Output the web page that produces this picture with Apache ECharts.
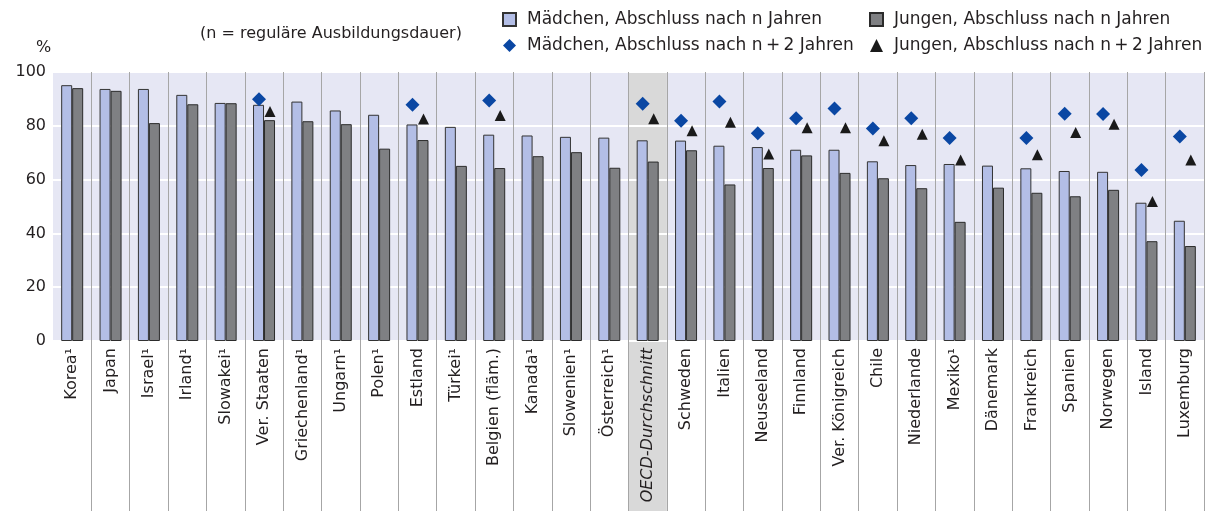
<!DOCTYPE html>
<html>
<head>
<meta charset="utf-8">
<script src="https://cdn.jsdelivr.net/npm/echarts@6/dist/echarts.min.js"></script>
<style>
  html, body { margin: 0; padding: 0; background: #fff; }
  #chart { width: 1208px; height: 511px; }
</style>
</head>
<body>
<div id="chart"></div>
<script>
// Länder (Reihenfolge wie im Original)
const categories = [
  'Korea¹', 'Japan', 'Israel¹', 'Irland¹', 'Slowakei¹', 'Ver. Staaten', 'Griechenland¹',
  'Ungarn¹', 'Polen¹', 'Estland', 'Türkei¹', 'Belgien (fläm.)', 'Kanada¹', 'Slowenien¹',
  'Österreich¹', 'OECD-Durchschnitt', 'Schweden', 'Italien', 'Neuseeland', 'Finnland',
  'Ver. Königreich', 'Chile', 'Niederlande', 'Mexiko¹', 'Dänemark', 'Frankreich',
  'Spanien', 'Norwegen', 'Island', 'Luxemburg'
]
const avgCategory = 'OECD-Durchschnitt'

// Mädchen / Jungen, Abschluss nach n Jahren (Balken)
const girlsN = [95.1, 93.7, 93.7, 91.5, 88.5, 87.8, 89.0, 85.7, 84.1, 80.5, 79.6, 76.7, 76.4, 75.9, 75.6,
  74.6, 74.5, 72.6, 72.1, 71.1, 71.1, 66.8, 65.4, 65.8, 65.2, 64.2, 63.2, 62.9, 51.4, 44.7]
const boysN = [94.0, 93.0, 81.0, 88.0, 88.4, 82.1, 81.7, 80.6, 71.5, 74.7, 65.1, 64.3, 68.7, 70.2, 64.4,
  66.7, 70.9, 58.2, 64.3, 69.0, 62.5, 60.5, 56.8, 44.3, 57.0, 55.1, 53.8, 56.2, 37.1, 35.3]

// Abschluss nach n+2 Jahren (Symbole), null = keine Daten
const girlsN2 = [null, null, null, null, null, 89.9, null, null, null, 87.8, null, 89.4, null, null, null,
  88.2, 81.9, 89.0, 77.2, 82.8, 86.4, 79.0, 82.8, 75.5, null, 75.5, 84.5, 84.4, 63.6, 76.0]
const boysN2 = [null, null, null, null, null, 85.3, null, null, null, 82.5, null, 83.8, null, null, null,
  82.6, 78.2, 81.3, 69.5, 79.3, 79.3, 74.4, 76.9, 67.3, null, 69.2, 77.5, 80.6, 51.9, 67.3]

const yTicks = { min: 0, max: 100, interval: 20 }

const FONT = 'DejaVu Sans'
const TXT = '#231f20'
const GRID = { left: 53, right: 4, top: 72, bottom: 170 }

const nameGirlsN = 'Mädchen, Abschluss nach n Jahren'
const nameBoysN = 'Jungen, Abschluss nach n Jahren'
const nameGirlsN2 = 'Mädchen, Abschluss nach n\u2009+\u20092 Jahren'
const nameBoysN2 = 'Jungen, Abschluss nach n\u2009+\u20092 Jahren'

const chart = echarts.init(document.getElementById('chart'), null, { renderer: 'canvas' })

const legendText = { fontFamily: FONT, fontSize: 17, color: TXT, padding: [0, 0, 0, 6] }

const option = {
  animation: false,
  textStyle: { fontFamily: FONT, color: TXT },
  title: [
    { text: '%', left: 31, top: 35, textStyle: { fontFamily: FONT, fontSize: 16, fontWeight: 'normal', color: TXT } },
    { text: '(n = reguläre Ausbildungsdauer)', left: 195, top: 21,
      textStyle: { fontFamily: FONT, fontSize: 16, fontWeight: 'normal', color: TXT } }
  ],
  legend: [
    {
      orient: 'vertical', left: 497, top: 6, itemWidth: 13, itemHeight: 13, itemGap: 9,
      textStyle: legendText,
      data: [{ name: nameGirlsN, icon: 'rect' }, { name: nameGirlsN2, icon: 'diamond' }]
    },
    {
      orient: 'vertical', left: 864, top: 6, itemWidth: 13, itemHeight: 13, itemGap: 9,
      textStyle: legendText,
      data: [{ name: nameBoysN, icon: 'rect' }, { name: nameBoysN2, icon: 'triangle' }]
    }
  ],
  grid: { left: GRID.left, right: GRID.right, top: GRID.top, bottom: GRID.bottom },
  xAxis: {
    type: 'category',
    data: categories,
    axisLine: { show: false },
    axisTick: {
      show: true, length: 170,
      interval: (i) => i > 0,
      lineStyle: { color: '#a6a6a6', width: 1 }
    },
    splitLine: {
      show: true,
      interval: (i) => i > 0,
      lineStyle: { color: '#a6a6a6', width: 1 }
    },
    axisLabel: {
      rotate: 90, margin: 7, fontFamily: FONT, fontSize: 16, color: TXT, interval: 0,
      formatter: (v) => v === avgCategory ? '{it|' + v + '}' : v,
      rich: { it: { fontStyle: 'italic', fontFamily: FONT, fontSize: 16, color: TXT } }
    }
  },
  yAxis: {
    type: 'value',
    min: yTicks.min, max: yTicks.max, interval: yTicks.interval,
    axisLine: { show: false },
    axisTick: { show: false },
    axisLabel: { fontFamily: FONT, fontSize: 16, color: TXT, margin: 7 },
    splitLine: { lineStyle: { color: '#ffffff', width: 2 } }
  },
  series: [
    {
      name: nameGirlsN, type: 'bar', data: girlsN, barWidth: 11, barGap: '0%',
      itemStyle: { color: '#b3bee6', borderColor: '#333333', borderWidth: 1 }
    },
    {
      name: nameBoysN, type: 'bar', data: boysN, barWidth: 11,
      itemStyle: { color: '#7f8083', borderColor: '#2b2b2b', borderWidth: 1 }
    },
    {
      name: nameGirlsN2, type: 'scatter', data: girlsN2, symbol: 'diamond', symbolSize: 14,
      symbolOffset: [-5, 0], z: 4,
      itemStyle: { color: '#0a47a3', opacity: 1 }
    },
    {
      name: nameBoysN2, type: 'scatter', data: boysN2, symbol: 'triangle', symbolSize: 11,
      symbolOffset: [6, 0], z: 4,
      itemStyle: { color: '#1a1a1a', opacity: 1 }
    }
  ]
}

chart.setOption(option)

// Hintergrund der Zeichenfläche und grauer Streifen für den OECD-Durchschnitt,
// beides unter den Gitterlinien; Lage aus den Achsen
const avgIdx = categories.indexOf(avgCategory)
const cx = chart.convertToPixel({ xAxisIndex: 0 }, avgIdx)
const band = chart.convertToPixel({ xAxisIndex: 0 }, avgIdx + 1) - cx
const yTop = chart.convertToPixel({ yAxisIndex: 0 }, yTicks.max)
const yZero = chart.convertToPixel({ yAxisIndex: 0 }, yTicks.min)
const plotW = chart.getWidth() - GRID.left - GRID.right
chart.setOption({
  graphic: [
    {
      type: 'rect', z: -1, silent: true,
      shape: { x: GRID.left, y: yTop, width: plotW, height: yZero - yTop },
      style: { fill: '#e6e7f4' }
    },
    {
      type: 'rect', z: -1, silent: true,
      shape: { x: cx - band / 2, y: yTop, width: band, height: chart.getHeight() - yTop },
      style: { fill: '#d9d9d9' }
    }
  ]
})
</script>
</body>
</html>
